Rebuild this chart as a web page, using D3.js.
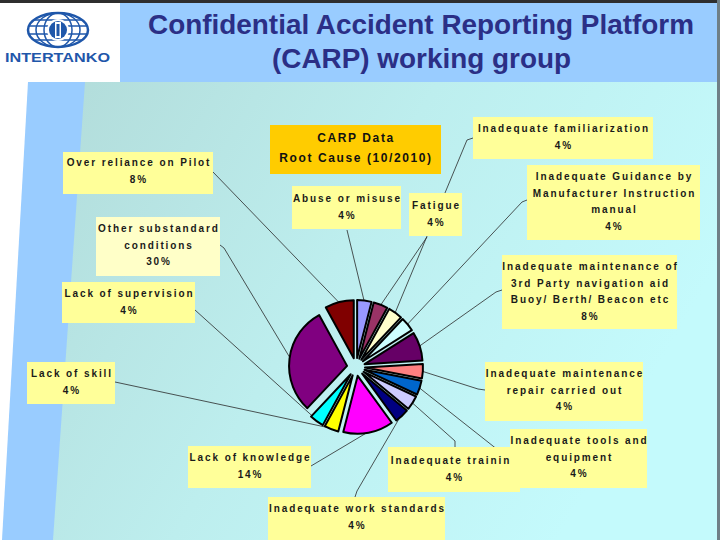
<!DOCTYPE html>
<html>
<head>
<meta charset="utf-8">
<script src="https://cdn.jsdelivr.net/npm/d3@7"></script>
<style>
  body { margin: 0; padding: 0; background: #fff; }
  svg { display: block; font-family: "Liberation Sans", Arial, sans-serif; }
</style>
</head>
<body>
<div class="visHolder"></div>
<script>
var width = 720,
    height = 540;

// chart data (root cause shares, %)
var categories = [
    'Abuse or misuse',
    'Fatigue',
    'Inadequate familiarization',
    'Inadequate Guidance by\nManufacturer Instruction\nmanual',
    'Inadequate maintenance of\n3rd Party navigation aid\nBuoy/ Berth/ Beacon etc',
    'Inadequate maintenance\nrepair carried out',
    'Inadequate tools and\nequipment',
    'Inadequate training',
    'Inadequate work standards',
    'Lack of knowledge',
    'Lack of skill',
    'Lack of supervision',
    'Other substandard\nconditions',
    'Over reliance on Pilot'
];
var values = [4, 4, 4, 4, 8, 4, 4, 4, 4, 14, 4, 4, 30, 8];
var sliceColors = ['#9999ff', '#993366', '#ffffcc', '#ccffff', '#660066', '#ff8080', '#0066cc',
    '#ccccff', '#000080', '#ff00ff', '#ffff00', '#00ffff', '#800080', '#800000'];
var chartTitle = ['CARP Data', 'Root Cause (10/2010)'];
var pageTitle = ['Confidential Accident Reporting Platform', '(CARP) working group'];

// label box layout, same order as categories
var boxes = [
    {x: 292, y: 186, w: 109, h: 43, ty: 202, anchor: [347, 230], elbow: null},
    {x: 409, y: 193, w: 53, h: 43, ty: 209, anchor: [427, 237], elbow: null},
    {x: 473, y: 117, w: 180, h: 42, ty: 132, anchor: [473, 138], elbow: [467, 140]},
    {x: 527, y: 165, w: 173, h: 75, ty: 180, anchor: [527, 200], elbow: [522, 202]},
    {x: 502, y: 255, w: 175, h: 74, ty: 270, anchor: [502, 290], elbow: [496, 292]},
    {x: 485, y: 362, w: 158, h: 59, ty: 377, anchor: [485, 390], elbow: [478, 389]},
    {x: 510, y: 429, w: 137, h: 59, ty: 444, anchor: [498, 450], elbow: null},
    {x: 388, y: 447, w: 132, h: 45, ty: 464, anchor: [455, 447], elbow: [455, 441]},
    {x: 268, y: 497, w: 177, h: 50, ty: 512, anchor: [355, 497], elbow: [357, 491]},
    {x: 188, y: 446, w: 123, h: 42, ty: 461, anchor: [311, 466], elbow: null},
    {x: 27, y: 362, w: 88, h: 42, ty: 377, anchor: [115, 382], elbow: null},
    {x: 62, y: 282, w: 133, h: 41, ty: 297, anchor: [195, 310], elbow: null},
    {x: 96, y: 217, w: 124, h: 59, ty: 232, anchor: [220, 245], elbow: [224, 248], light: true},
    {x: 63, y: 152, w: 150, h: 42, ty: 166, anchor: [213, 172], elbow: null}
];
// draw order so overlapping boxes stack like the original
var drawOrder = [0, 2, 1, 3, 4, 5, 7, 6, 8, 9, 10, 11, 12, 13];

var cx = 356, cy = 367, radius = 58, explode = 9;

var svg = d3.select('.visHolder')
    .append('svg')
    .attr('width', width)
    .attr('height', height);

var defs = svg.append('defs');
var grad = defs.append('linearGradient')
    .attr('id', 'bodyGrad')
    .attr('x1', 0).attr('y1', 0).attr('x2', 1).attr('y2', 0.4);
grad.append('stop').attr('offset', 0).attr('stop-color', '#b2dcda');
grad.append('stop').attr('offset', 0.5).attr('stop-color', '#bdeeee');
grad.append('stop').attr('offset', 1).attr('stop-color', '#c4fafc');

// background
svg.append('rect').attr('width', width).attr('height', height).attr('fill', '#ffffff');
svg.append('polygon')
    .attr('points', '84,82 718,82 718,540 52,540')
    .attr('fill', 'url(#bodyGrad)');
svg.append('polygon')
    .attr('points', '28,82 85,82 53,540 2,540')
    .attr('fill', '#99ccff');

// header banner
svg.append('rect').attr('x', 120).attr('y', 3).attr('width', 597).attr('height', 79).attr('fill', '#99ccff');
svg.append('rect').attr('x', 0).attr('y', 0).attr('width', width).attr('height', 3).attr('fill', '#2e2e2e');
svg.append('rect').attr('x', 717).attr('y', 0).attr('width', 3).attr('height', height).attr('fill', '#6f7f86');

svg.selectAll('.pageTitle')
    .data(pageTitle)
    .enter()
    .append('text')
    .attr('class', 'pageTitle')
    .attr('x', (d, i) => i === 0 ? 148 : 272)
    .attr('y', (d, i) => i === 0 ? 34 : 68)
    .attr('textLength', (d, i) => i === 0 ? 546 : 299)
    .attr('lengthAdjust', 'spacingAndGlyphs')
    .style('font-size', '27px')
    .style('font-weight', 'bold')
    .style('fill', '#2b2f86')
    .text(d => d);

// logo
var logo = svg.append('g').attr('transform', 'translate(58,30)');
var blue = '#1f57aa';
logo.append('ellipse').attr('rx', 30).attr('ry', 17).attr('fill', 'none').attr('stroke', blue).attr('stroke-width', 2.5);
[-10, -4, 4, 10].forEach(function (yy) {
    var hw = 30 * Math.sqrt(1 - (yy * yy) / (17 * 17));
    logo.append('line').attr('x1', -hw).attr('x2', hw).attr('y1', yy).attr('y2', yy)
        .attr('stroke', blue).attr('stroke-width', 1.5);
});
[22, 14].forEach(function (rx) {
    logo.append('ellipse').attr('rx', rx).attr('ry', 17).attr('fill', 'none').attr('stroke', blue).attr('stroke-width', 1.5);
});
logo.append('circle').attr('r', 11).attr('fill', '#ffffff');
logo.append('circle').attr('r', 9).attr('fill', blue);
logo.append('rect').attr('x', -3).attr('y', -8).attr('width', 6).attr('height', 16).attr('fill', '#ffffff');
logo.append('rect').attr('x', -1.5).attr('y', -6).attr('width', 3).attr('height', 12).attr('fill', blue);
svg.append('text')
    .attr('x', 5).attr('y', 62)
    .attr('textLength', 105)
    .attr('lengthAdjust', 'spacingAndGlyphs')
    .style('font-size', '13px')
    .style('font-weight', '900')
    .style('fill', blue)
    .text('INTERTANKO');

// pie
var pie = d3.pie().sort(null).value(d => d);
var arc = d3.arc().innerRadius(0).outerRadius(radius);
var arcs = pie(values);

function midAngle(d) { return (d.startAngle + d.endAngle) / 2; }
function edgePoint(d) {
    var a = midAngle(d), rr = radius + explode - 1;
    return [cx + rr * Math.sin(a), cy - rr * Math.cos(a)];
}

// leader lines (behind the boxes)
var line = d3.line();
svg.append('g')
    .selectAll('path')
    .data(arcs)
    .enter()
    .append('path')
    .attr('d', function (d, i) {
        var b = boxes[i];
        var pts = [b.anchor];
        if (b.elbow) pts.push(b.elbow);
        pts.push(edgePoint(d));
        return line(pts);
    })
    .attr('fill', 'none')
    .attr('stroke', '#2a2a2a')
    .attr('stroke-width', 0.8);

svg.append('g')
    .attr('transform', 'translate(' + cx + ',' + cy + ')')
    .selectAll('path')
    .data(arcs)
    .enter()
    .append('path')
    .attr('d', arc)
    .attr('transform', function (d) {
        var a = midAngle(d);
        return 'translate(' + (explode * Math.sin(a)) + ',' + (-explode * Math.cos(a)) + ')';
    })
    .attr('fill', (d, i) => sliceColors[i])
    .attr('stroke', '#000')
    .attr('stroke-width', 2)
    .attr('stroke-linejoin', 'round');

// label boxes
var labels = svg.append('g')
    .selectAll('g')
    .data(drawOrder)
    .enter()
    .append('g');

labels.append('rect')
    .attr('x', i => boxes[i].x)
    .attr('y', i => boxes[i].y)
    .attr('width', i => boxes[i].w)
    .attr('height', i => boxes[i].h)
    .attr('fill', i => boxes[i].light ? '#ffffc8' : '#ffff99');

labels.each(function (i) {
    var b = boxes[i];
    var rows = categories[i].split('\n').concat([values[i] + '%']);
    d3.select(this).selectAll('text')
        .data(rows)
        .enter()
        .append('text')
        .attr('x', b.x + b.w / 2 + 1)
        .attr('y', (d, k) => b.ty + k * 16.6)
        .attr('text-anchor', 'middle')
        .style('font-size', '10px')
        .style('font-weight', 'bold')
        .style('letter-spacing', '1.9px')
        .style('fill', '#1a1a1a')
        .text(d => d);
});

// chart title box
svg.append('rect')
    .attr('x', 270).attr('y', 125).attr('width', 171).attr('height', 49)
    .attr('fill', '#ffcc00');
svg.selectAll('.chartTitle')
    .data(chartTitle)
    .enter()
    .append('text')
    .attr('class', 'chartTitle')
    .attr('x', 356)
    .attr('y', (d, i) => 142 + i * 20)
    .attr('text-anchor', 'middle')
    .style('font-size', '12px')
    .style('font-weight', 'bold')
    .style('letter-spacing', '1.6px')
    .style('fill', '#111')
    .text(d => d);
</script>
</body>
</html>
